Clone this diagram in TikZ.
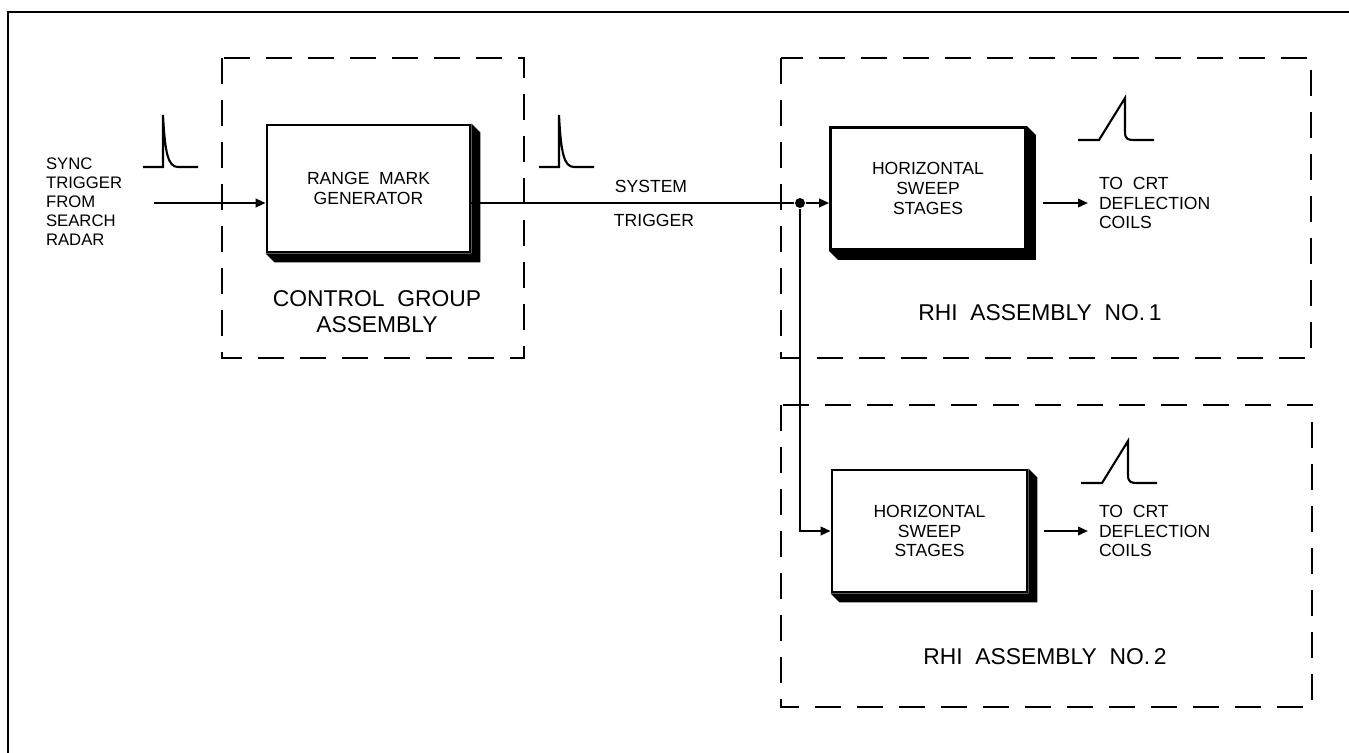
\documentclass[tikz,border=0pt]{standalone}
\usepackage{fontspec}
\setmainfont{Liberation Sans}
\usetikzlibrary{arrows.meta}

\begin{document}
\begin{tikzpicture}[x=0.02cm, y=-0.02cm, line width=1.2pt,
  blk/.style={draw=black, line width=1.6pt, fill=white, align=center,
    minimum width=3.9cm, minimum height=2.44cm, inner sep=2pt,
    font=\fontsize{10}{11.3}\selectfont},
  grp/.style={draw=black, line width=1.2pt, dash pattern=on 0.52cm off 0.32cm},
  lbl/.style={align=center, font=\fontsize{13}{14.7}\selectfont},
  txt/.style={align=left, anchor=west, font=\fontsize{10}{11.3}\selectfont},
  conn/.style={-{Triangle[length=0.2cm,width=0.17cm]}},
  dot/.style={circle, fill=black, inner sep=0pt, minimum size=0.2cm},
  spike/.pic={\draw (-20,0) -- (0,0) -- (0,-52) .. controls (2,-14) and (5,0) .. (15,0) -- (35,0);},
  ramp/.pic={\draw (-21,0) -- (0,0) -- (26,-42) -- (26,-8) .. controls (26,-1) and (29,0) .. (35,0) -- (55,0);}]
\useasboundingbox (0,0) rectangle (1349,753);
\draw[line width=1.5pt] (8,753) -- (8,12) -- (1349,12);
% assemblies
\draw[grp] (222,58) rectangle (524,358);
\draw[grp] (781,58) rectangle (1311,358);
\draw[grp] (781,405) rectangle (1312,707);
\node[lbl] (ctrllbl) at (377,312) {CONTROL\ \ GROUP\\ASSEMBLY};
\node[lbl] (rhi1lbl) at (1040,313) {RHI\ \ ASSEMBLY\ \ NO.\,1};
\node[lbl] (rhi2lbl) at (1045,657) {RHI\ \ ASSEMBLY\ \ NO.\,2};
% stages
\node[blk, minimum width=4.06cm, minimum height=2.54cm] (rmg) at (368.5,188.5) {RANGE\ \ MARK\\GENERATOR};
\node[blk] (hss1) at (928,188.5) {HORIZONTAL\\SWEEP\\STAGES};
\node[blk] (hss2) at (929.5,531) {HORIZONTAL\\SWEEP\\STAGES};
\foreach \b in {rmg,hss1,hss2}
  \fill (\b.north east) -- ++(9,9) -- ([shift={(9,9)}]\b.south east)
    -- ([shift={(9,9)}]\b.south west) -- (\b.south west) -- (\b.south east) -- cycle;
\node[txt, inner sep=0pt, font=\fontsize{9.5}{10.8}\selectfont] (sync) at (45,202) {SYNC\\TRIGGER\\FROM\\SEARCH\\RADAR};
\node[font=\fontsize{10}{11.3}\selectfont] (sys) at (651,186) {SYSTEM};
\node[font=\fontsize{10}{11.3}\selectfont] (trig) at (654,220) {TRIGGER};
\node[txt, inner sep=0.2cm] (crt1) at (1088,203) {TO\ \ CRT\\DEFLECTION\\COILS};
\node[txt, inner sep=0.2cm] (crt2) at (1088,531) {TO\ \ CRT\\DEFLECTION\\COILS};
\node[dot] (dot) at (800,203) {};
\coordinate (in) at (154,203);
% waveforms
\pic at (163,167) {spike};
\pic at (559,167) {spike};
\pic at (1099,140) {ramp};
\pic at (1102,483) {ramp};
% signal path
\draw[conn] (in) -- (in -| rmg.west);
\draw (in -| rmg.east) -- (dot);
\draw[conn] (dot) -- (dot -| hss1.west);
\draw[conn] (dot) |- (hss2.west);
\draw[conn] ([xshift=9]dot -| hss1.east) -- (crt1.west);
\draw[conn] ([xshift=9]hss2.east) -- (crt2.west);
\end{tikzpicture}
\end{document}
